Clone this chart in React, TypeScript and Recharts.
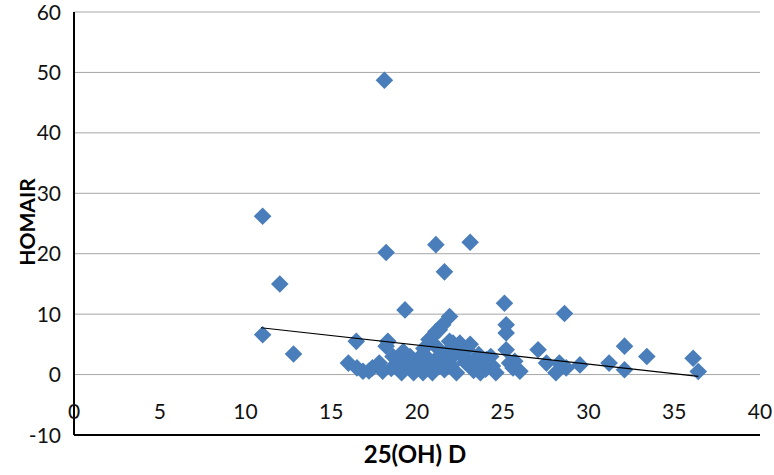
import React from 'react';
import { ScatterChart, Scatter, XAxis, YAxis, CartesianGrid, Label } from 'recharts';

const xValues = [
  11.0, 18.1, 12.0, 11.0, 12.8, 18.2, 21.1, 23.1, 21.6, 19.3, 25.1, 28.6,
  16.0, 16.5, 16.85, 16.46, 17.4, 17.8, 18.0, 18.2, 18.3, 18.6, 18.8, 19.2,
  19.1, 19.6, 19.8, 20.2, 20.35, 20.7, 20.9, 20.9, 21.1, 21.5, 21.9, 21.3,
  21.1, 21.9, 22.1, 22.5, 23.1, 21.3, 22.3, 23.1, 23.7, 24.05, 24.4, 24.6,
  20.9, 21.9, 22.7, 23.5, 20.7, 22.3, 19.4, 19.0, 20.0, 21.6, 22.0, 23.3,
  24.0, 23.9, 22.8, 19.5, 20.5, 21.7, 18.5, 17.2,
  22.0, 22.9, 23.6, 20.4, 19.9, 21.2, 24.3,
  25.2, 25.2, 25.2, 25.6, 25.7, 26.0, 27.06, 27.55, 28.3, 28.1, 28.7, 29.5,
  31.2, 32.1, 32.1, 33.4, 36.1, 36.4, 25.4,
];
const yValues = [
  26.2, 48.7, 15.0, 6.6, 3.4, 20.2, 21.5, 21.9, 17.0, 10.7, 11.8, 10.1,
  1.9, 1.1, 0.55, 5.5, 1.1, 1.9, 0.55, 4.7, 5.5, 3.0, 2.5, 3.8,
  0.3, 3.0, 0.3, 3.0, 0.3, 5.8, 1.9, 6.3, 7.1, 8.25, 9.6, 7.4,
  4.7, 5.5, 5.2, 5.2, 5.0, 1.4, 0.3, 1.4, 0.3, 2.5, 1.4, 0.3,
  0.3, 2.5, 3.0, 2.5, 2.5, 4.4, 1.5, 1.2, 1.6, 0.8, 1.5, 0.7,
  0.9, 1.8, 2.1, 2.2, 1.0, 3.6, 1.0, 0.6,
  3.5, 4.2, 3.3, 4.3, 2.0, 2.8, 3.0,
  8.25, 6.9, 4.1, 1.1, 2.2, 0.55, 4.1, 1.9, 1.9, 0.3, 1.1, 1.6,
  1.9, 4.7, 0.8, 3.0, 2.7, 0.5, 1.9,
];
const trendX = [10.9, 36.4];
const trendY = [7.75, -0.3];
const xTicks = [0, 5, 10, 15, 20, 25, 30, 35, 40];
const yTicks = [-10, 0, 10, 20, 30, 40, 50, 60];

const points = xValues.map((x, i) => ({ x, y: yValues[i] }));
const trend = trendX.map((x, i) => ({ x, y: trendY[i] }));

const FONT = 'Lato, "Open Sans", sans-serif';

const Diamond = (props: any) => {
  const { cx, cy } = props;
  const r = 8.8;
  return (
    <polygon
      points={`${cx},${cy - r} ${cx + r},${cy} ${cx},${cy + r} ${cx - r},${cy}`}
      fill="#4a7ebb"
    />
  );
};

const NoShape = () => <g />;

const XTick = (props: any) => {
  const { x, y, payload } = props;
  return (
    <text x={x} y={y - 16} textAnchor="middle" fontSize={21} fontFamily={FONT} fill="#111">
      {payload.value}
    </text>
  );
};

const YTick = (props: any) => {
  const { y, payload } = props;
  return (
    <text x={61} y={y + 7.5} textAnchor="end" fontSize={21} fontFamily={FONT} fill="#111">
      {payload.value}
    </text>
  );
};

const YTitle = () => (
  <text
    x={26}
    y={222}
    transform="rotate(-90 26 222)"
    textAnchor="middle"
    dominantBaseline="central"
    fontSize={21}
    fontWeight="bold"
    fontFamily={FONT}
    fill="#000"
  >
    HOMAIR
  </text>
);

const XTitle = () => (
  <text
    x={415}
    y={463}
    textAnchor="middle"
    fontSize={24}
    fontWeight="bold"
    fontFamily={FONT}
    fill="#000"
  >
    25(OH) D
  </text>
);

export default function App() {
  return (
    <div style={{ position: 'absolute', left: 0, top: 0, width: 774, height: 475, background: '#fff' }}>
      <ScatterChart width={774} height={475} margin={{ top: 12, right: 14, bottom: 0, left: 0 }}>
        <CartesianGrid horizontal={true} vertical={false} stroke="#a6a6a6" strokeWidth={1} />
        <XAxis
          type="number"
          dataKey="x"
          domain={[0, 40]}
          ticks={xTicks}
          height={40}
          tickLine={false}
          tickSize={0}
          tickMargin={0}
          axisLine={{ stroke: '#000', strokeWidth: 2 }}
          tick={<XTick />}
          interval={0}
          allowDataOverflow
        >
          <Label content={<XTitle />} />
        </XAxis>
        <YAxis
          type="number"
          dataKey="y"
          domain={[-10, 60]}
          ticks={yTicks}
          width={74}
          tickLine={false}
          tickSize={0}
          tickMargin={14}
          axisLine={{ stroke: '#000', strokeWidth: 2 }}
          tick={<YTick />}
          interval={0}
          allowDataOverflow
        >
          <Label content={<YTitle />} />
        </YAxis>
        <Scatter data={points} shape={Diamond} isAnimationActive={false} />
        <Scatter
          data={trend}
          shape={NoShape}
          line={{ stroke: '#000', strokeWidth: 1.2 }}
          lineType="joint"
          isAnimationActive={false}
        />
      </ScatterChart>
    </div>
  );
}
